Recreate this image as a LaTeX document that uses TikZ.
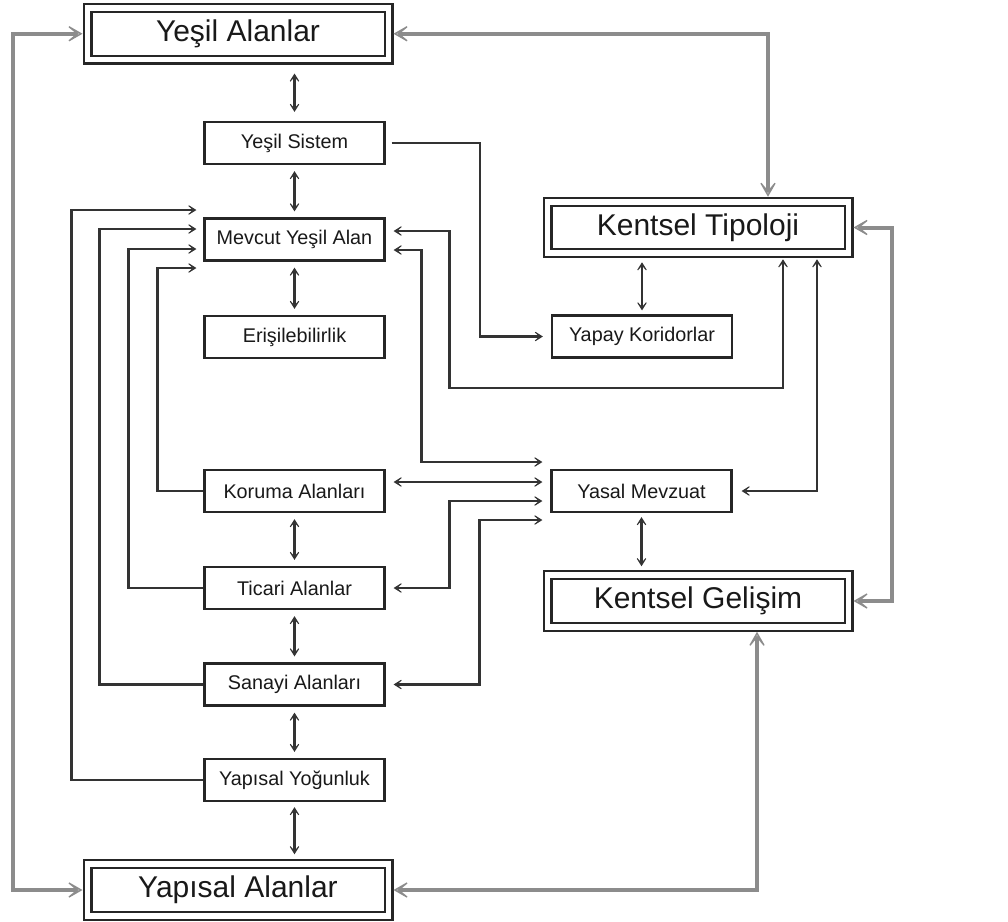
\documentclass[tikz,border=0pt]{standalone}
\usepackage{fontspec}
\setmainfont{Liberation Sans}
\usetikzlibrary{arrows.meta}

\tikzset{
  Chev/.tip={Stealth[length=12pt,width=15pt,inset=8.5pt,line width=1.1pt,
    fill=black!30]},
  GChev/.tip={Stealth[length=20pt,width=23pt,inset=14pt,line width=1.3pt,
    fill=black!22]}
}

\begin{document}
\begin{tikzpicture}[x=1pt,y=-1pt,
  smallbox/.style={draw=black!85, line width=2.2pt, fill=white,
    minimum width=180pt, minimum height=42pt, inner sep=0pt,
    font=\fontsize{19.8}{24}\selectfont, text=black!90},
  bigbox/.style={draw=black!85, line width=2.2pt, double=white,
    double distance=5.6pt, minimum width=301pt, minimum height=51.5pt,
    inner sep=0pt, outer sep=5pt,
    font=\fontsize{30}{36}\selectfont, text=black!90},
  conn/.style={draw=black!80, line width=2.4pt, line join=miter},
  gconn/.style={draw=black!45, line width=4pt, line join=miter, GChev-GChev},
  gap/.style={shorten <=#1, shorten >=#1}
]
\useasboundingbox (0,0) rectangle (1008,921);

% main boxes
\node[bigbox] (YA)   at (238,33.75) {Yeşil Alanlar};
\node[bigbox] (YapA) at (238,890)   {Yapısal Alanlar};
\node[bigbox] (KT)   at (698,227.5) {Kentsel Tipoloji};
\node[bigbox] (KG)   at (698,601)   {Kentsel Gelişim};

% left column
\node[smallbox] (YS)  at (294.5,143)   {Yeşil Sistem};
\node[smallbox] (MYA) at (294.5,239.5) {Mevcut Yeşil Alan};
\node[smallbox] (ER)  at (294.5,337)   {Erişilebilirlik};
\node[smallbox] (KA)  at (294.5,491)   {Koruma Alanları};
\node[smallbox] (TA)  at (294.5,588)   {Ticari Alanlar};
\node[smallbox] (SA)  at (294.5,684.5) {Sanayi Alanları};
\node[smallbox] (YY)  at (294.5,780)   {Yapısal Yoğunluk};

% right column
\node[smallbox] (YK) at (642,336.5) {Yapay Koridorlar};
\node[smallbox] (YM) at (641.5,491) {Yasal Mevzuat};

% vertical two-way links
\draw[conn,Chev-Chev,gap=9pt] (YA.south -| YS.north) -- (YS.north);
\draw[conn,Chev-Chev,gap=6pt] (YS.south) -- (MYA.north);
\draw[conn,Chev-Chev,gap=6pt] (MYA.south) -- (ER.north);
\draw[conn,Chev-Chev,gap=6pt] (KA.south) -- (TA.north);
\draw[conn,Chev-Chev,gap=6pt] (TA.south) -- (SA.north);
\draw[conn,Chev-Chev,gap=6pt] (SA.south) -- (YY.north);
\draw[conn,Chev-Chev,gap=5pt] (YY.south) -- (YY.south |- YapA.north);
\draw[conn,Chev-Chev,gap=4pt] (KT.south -| YK.north) -- (YK.north);
\draw[conn,Chev-Chev,gap=4pt] (YM.south) -- (YM.south |- KG.north);

% Yeşil Sistem to Yapay Koridorlar
\draw[conn,-Chev,shorten <=6pt,shorten >=8pt]
  (YS.east) -- ++(94.5pt,0) |- (YK.west);

% feedback lines into Mevcut Yeşil Alan (left side)
\draw[conn,-Chev,shorten >=7pt] (YY.west) -- ++(-132pt,0) |- ([yshift=29.5pt]MYA.west);
\draw[conn,-Chev,shorten >=7pt] (SA.west) -- ++(-104pt,0) |- ([yshift=10.5pt]MYA.west);
\draw[conn,-Chev,shorten >=7pt] (TA.west) -- ++(-75pt,0)  |- ([yshift=-9.5pt]MYA.west);
\draw[conn,-Chev,shorten >=7pt] (KA.west) -- ++(-46pt,0)  |- ([yshift=-28.5pt]MYA.west);

% Mevcut Yeşil Alan (right side)
\draw[conn,Chev-Chev,shorten <=8pt,shorten >=1pt]
  ([yshift=8.5pt]MYA.east) -- ++(64pt,0) -- ++(0,-157pt) -| ([xshift=85pt]KT.south);
\draw[conn,Chev-Chev,shorten <=8pt,shorten >=8pt]
  ([yshift=-10.5pt]MYA.east) -- ++(36pt,0) |- ([yshift=29pt]YM.west);

% links into Yasal Mevzuat
\draw[conn,Chev-Chev,gap=8pt] ([yshift=9pt]KA.east) -- ([yshift=9pt]YM.west);
\draw[conn,Chev-Chev,gap=8pt] (TA.east) -- ++(64pt,0) |- ([yshift=-10pt]YM.west);
\draw[conn,Chev-Chev,gap=8pt] (SA.east) -- ++(94pt,0) |- ([yshift=-29pt]YM.west);
\draw[conn,Chev-Chev,shorten <=1pt,shorten >=9pt] ([xshift=119pt]KT.south) |- (YM.east);

% outer grey links
\draw[gconn] (YA.west) -- ++(-70pt,0) |- (YapA.west);
\draw[gconn] (YA.east) -| ([xshift=70pt]KT.north);
\draw[gconn] (KT.east) -- ++(38pt,0) |- (KG.east);
\draw[gconn] ([xshift=59pt]KG.south) |- (YapA.east);
\end{tikzpicture}
\end{document}
